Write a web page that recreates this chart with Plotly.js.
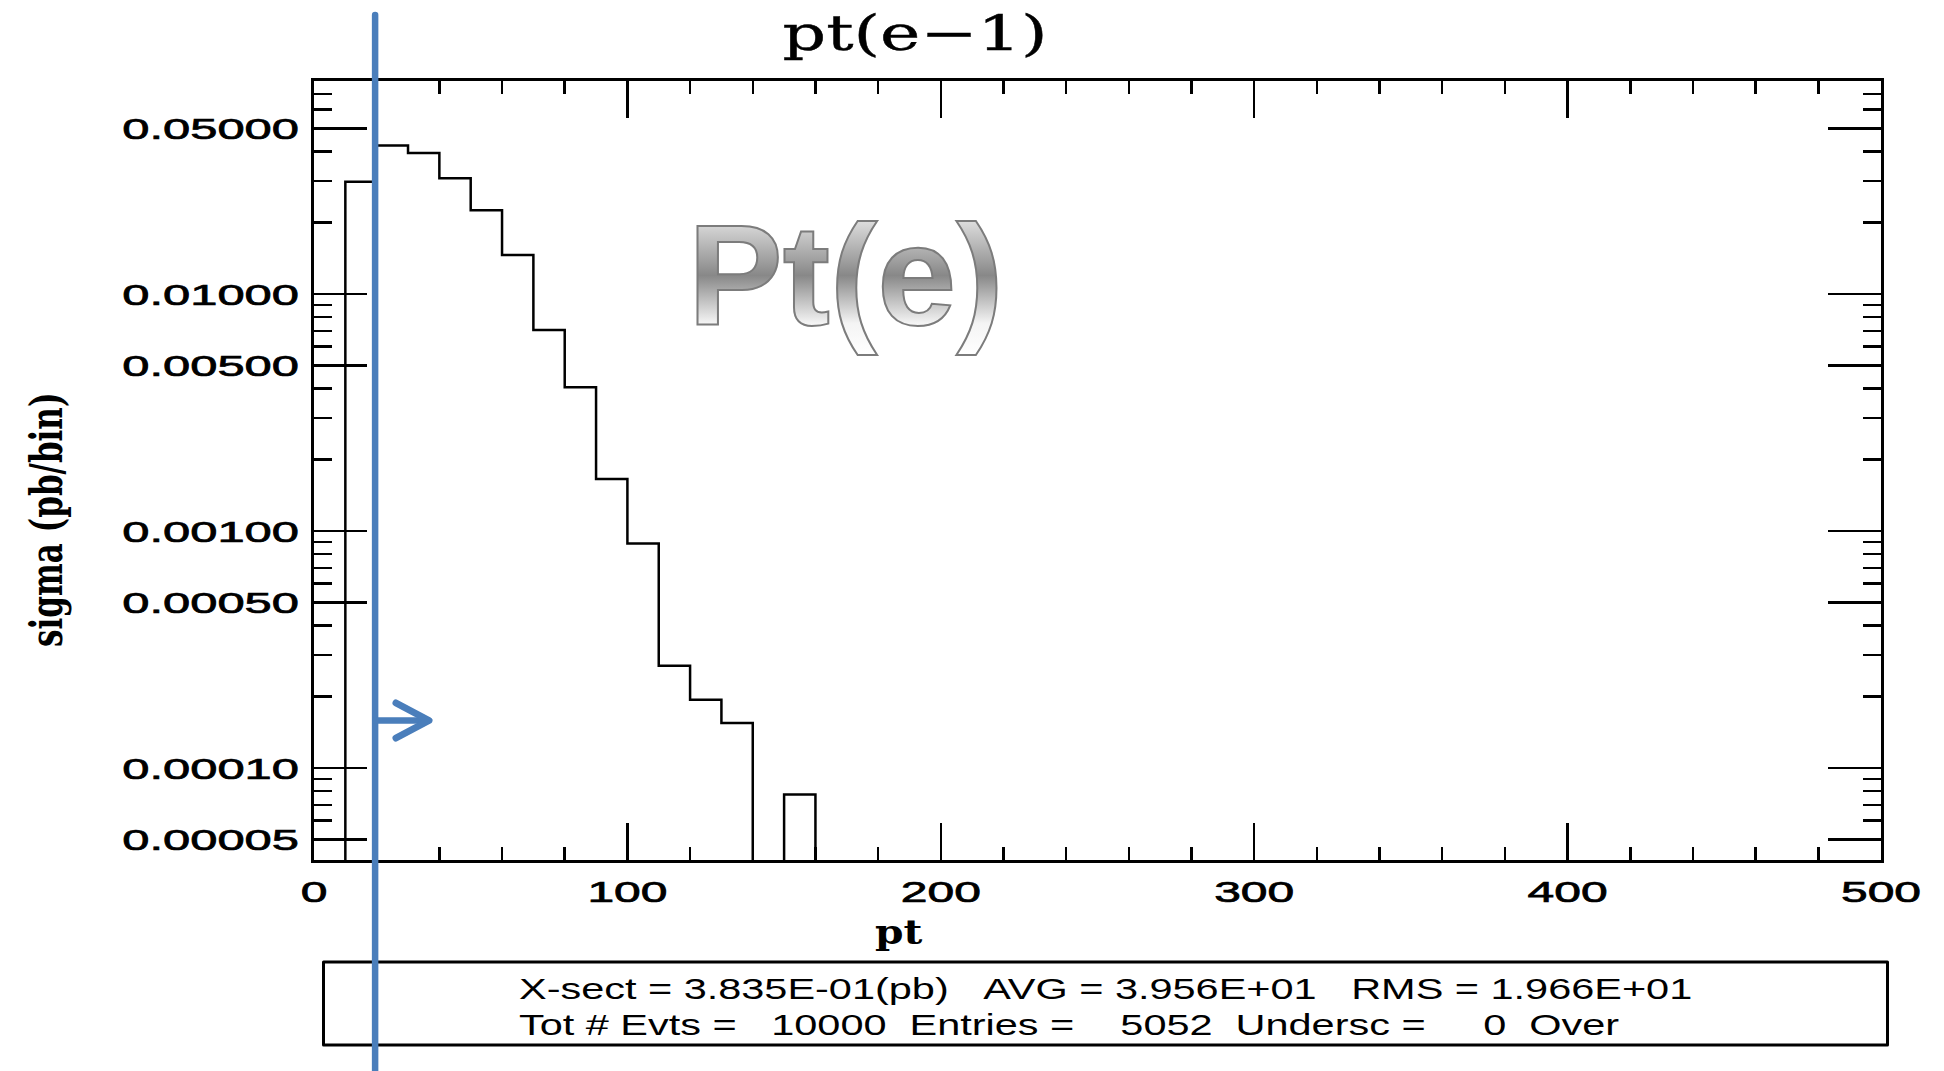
<!DOCTYPE html>
<html>
<head>
<meta charset="utf-8">
<script src="https://cdn.plot.ly/plotly-3.0.1.min.js"></script>
<style>html,body{margin:0;padding:0;background:#fff;overflow:hidden}</style>
</head>
<body>
<div id="chart" style="width:1944px;height:1071px"></div>
<script>
// ---------------- data ----------------
const binLowEdges = [0, 10, 20, 30, 40, 50, 60, 70, 80, 90, 100, 110, 120, 130, 140, 150, 160];
const binWidth = 10;
const sigmaPerBin = [0, 0.0298, 0.0423, 0.0394, 0.0308, 0.0226, 0.0146, 0.00705, 0.00404,
                     0.00166, 0.000887, 0.000270, 0.000194, 0.000155, 0, 0.0000774, 0];
const xTickVals = [0, 100, 200, 300, 400, 500];
const xTickText = ['0', '100', '200', '300', '400', '500'];
const xMinorVals = [20, 40, 60, 80, 120, 140, 160, 180, 220, 240, 260, 280,
                    320, 340, 360, 380, 420, 440, 460, 480];
const yTickVals = [0.00005, 0.0001, 0.0005, 0.001, 0.005, 0.01, 0.05];
const yTickText = ['0.00005', '0.00010', '0.00050', '0.00100', '0.00500', '0.01000', '0.05000'];
const yMinorVals = [6e-5, 7e-5, 8e-5, 9e-5, 2e-4, 3e-4, 4e-4, 6e-4, 7e-4, 8e-4, 9e-4,
                    2e-3, 3e-3, 4e-3, 6e-3, 7e-3, 8e-3, 9e-3, 2e-2, 3e-2, 4e-2, 6e-2, 7e-2];
const ptCut = 19.5;
const titleText = 'pt(e\u22121)';
const xTitleText = 'pt';
const yTitleText = 'sigma (pb/bin)';
const overlayText = 'Pt(e)';
const statsLine1 = 'X-sect = 3.835E-01(pb)   AVG = 3.956E+01   RMS = 1.966E+01';
const statsLine2 = 'Tot # Evts =   10000  Entries =    5052  Undersc =     0  Over';

// ---------------- geometry helpers ----------------
const W = 1944, H = 1071, L = 314, R = 1881, T = 81, B = 860;
const px = v => (v - L) / (R - L);
const py = v => (B - v) / (B - T);
const nb = s => s.replace(/ /g, '\u00A0');
const BLUE = '#4A7EBB';

// histogram as step outline (zero bins drop below the axis floor)
const floorVal = 1e-7;
const stepX = binLowEdges.concat([binLowEdges[binLowEdges.length - 1] + binWidth]);
const stepY = sigmaPerBin.concat([sigmaPerBin[sigmaPerBin.length - 1]]).map(v => v > 0 ? v : floorVal);

const data = [{
  type: 'scatter', mode: 'lines', x: stepX, y: stepY,
  line: {color: '#000', width: 2.5, shape: 'hv'},
  hoverinfo: 'skip', showlegend: false
}];

const tickFont = {family: 'Liberation Sans, Arial, sans-serif', size: 30, color: '#000'};

const layout = {
  width: W, height: H,
  margin: {l: L, r: W - R, t: T, b: H - B, autoexpand: false},
  paper_bgcolor: '#fff', plot_bgcolor: '#fff',
  showlegend: false,
  title: {
    text: titleText, x: 915 / W, xref: 'container', xanchor: 'center',
    y: 1 - 33 / H, yref: 'container', yanchor: 'middle',
    font: {family: 'DejaVu Serif, serif', size: 48, color: '#000'}
  },
  xaxis: {
    range: [0, 500], tickmode: 'array', tickvals: xTickVals, ticktext: xTickText,
    ticks: 'inside', ticklen: 37, tickwidth: 2.5, tickcolor: '#000',
    showline: true, linewidth: 3, linecolor: '#000', mirror: 'allticks',
    showgrid: false, zeroline: false, automargin: false,
    tickfont: tickFont, ticklabelstandoff: 3,
    minor: {tickmode: 'array', tickvals: xMinorVals, ticks: 'inside', ticklen: 13, tickwidth: 2.5, tickcolor: '#000', showgrid: false}
  },
  yaxis: {
    type: 'log', range: [-4.388, -1.101], tickmode: 'array', tickvals: yTickVals, ticktext: yTickText,
    ticks: 'inside', ticklen: 53, tickwidth: 2.5, tickcolor: '#000',
    showline: true, linewidth: 3, linecolor: '#000', mirror: 'allticks',
    showgrid: false, zeroline: false, automargin: false,
    tickfont: tickFont, ticklabelstandoff: 6,
    minor: {tickmode: 'array', tickvals: yMinorVals, ticks: 'inside', ticklen: 18, tickwidth: 2.5, tickcolor: '#000', showgrid: false}
  },
  annotations: [
    {text: overlayText, xref: 'paper', yref: 'paper', x: px(846), y: py(275), xanchor: 'center', yanchor: 'middle',
     showarrow: false, font: {family: 'Liberation Sans, Arial, sans-serif', size: 142, weight: 700, color: '#8a8a8a'}},
    {text: xTitleText, xref: 'paper', yref: 'paper', x: px(899), y: py(932), xanchor: 'center', yanchor: 'middle',
     showarrow: false, font: {family: 'DejaVu Serif, serif', size: 34, weight: 700, color: '#000'}},
    {text: yTitleText, xref: 'paper', yref: 'paper', x: px(46), y: py(520), xanchor: 'center', yanchor: 'middle',
     textangle: -90, showarrow: false, font: {family: 'DejaVu Serif, serif', size: 31, weight: 700, color: '#000'}},
    {text: nb(statsLine1), xref: 'paper', yref: 'paper', x: px(517), y: py(989), xanchor: 'left', yanchor: 'middle',
     align: 'left', showarrow: false, font: {family: 'Liberation Sans, Arial, sans-serif', size: 29, color: '#000'}},
    {text: nb(statsLine2), xref: 'paper', yref: 'paper', x: px(517), y: py(1025), xanchor: 'left', yanchor: 'middle',
     align: 'left', showarrow: false, font: {family: 'Liberation Sans, Arial, sans-serif', size: 29, color: '#000'}}
  ],
  shapes: [
    {type: 'rect', xref: 'paper', yref: 'paper', x0: px(323.5), x1: px(1887.5), y0: py(1045), y1: py(962),
     line: {color: '#000', width: 3}, fillcolor: 'rgba(0,0,0,0)', layer: 'above'},
    {type: 'line', xref: 'x', yref: 'paper', x0: ptCut, x1: ptCut, y0: py(1080), y1: py(15),
     line: {color: BLUE, width: 6.5}, layer: 'above'},
    {type: 'line', xref: 'paper', yref: 'paper', x0: px(376), x1: px(427), y0: py(720.5), y1: py(720.5),
     line: {color: BLUE, width: 6.5}, layer: 'above'},
    {type: 'path', xref: 'paper', yref: 'paper',
     path: 'M ' + px(396) + ' ' + py(703) + ' L ' + px(429) + ' ' + py(720.5) + ' L ' + px(396) + ' ' + py(738),
     line: {color: BLUE, width: 7}, fillcolor: 'rgba(0,0,0,0)', layer: 'above'}
  ]
};

function stretch(el, sx, sy) {
  if (!el) return;
  const bb = el.getBBox();
  const anchor = el.getAttribute('text-anchor') || 'start';
  const cx = anchor === 'end' ? bb.x + bb.width : (anchor === 'middle' ? bb.x + bb.width / 2 : bb.x);
  const cy = bb.y + bb.height / 2;
  const tr = el.getAttribute('transform') || '';
  el.setAttribute('transform', tr + ' translate(' + cx + ',' + cy + ') scale(' + sx + ',' + sy + ') translate(' + (-cx) + ',' + (-cy) + ')');
}
function thicken(el, w) {
  if (!el) return;
  el.style.stroke = '#000';
  el.style.strokeWidth = w + 'px';
}

const gd = document.getElementById('chart');
Plotly.newPlot(gd, data, layout, {staticPlot: true, displayModeBar: false}).then(() => {
  gd.querySelectorAll('g.ytick text').forEach(t => { stretch(t, 1.63, 1); thicken(t, 0.7); });
  gd.querySelectorAll('g.xtick text').forEach(t => { stretch(t, 1.6, 1); thicken(t, 0.7); });
  stretch(gd.querySelector('.gtitle'), 1.42, 1);
  thicken(gd.querySelector('.gtitle'), 0.4);
  const ann = i => gd.querySelector('g.annotation[data-index="' + i + '"] text');
  stretch(ann(1), 1.2, 1);
  stretch(ann(2), 1, 1.45);
  stretch(ann(3), 1.43, 1);
  stretch(ann(4), 1.43, 1);
  // metallic fill for the overlay label
  const svg = gd.querySelector('svg.main-svg');
  const NS = 'http://www.w3.org/2000/svg';
  let defs = svg.querySelector('defs');
  if (!defs) { defs = document.createElementNS(NS, 'defs'); svg.insertBefore(defs, svg.firstChild); }
  const grad = document.createElementNS(NS, 'linearGradient');
  grad.setAttribute('id', 'ptMetal');
  grad.setAttribute('x1', '0'); grad.setAttribute('y1', '0');
  grad.setAttribute('x2', '0'); grad.setAttribute('y2', '1');
  [[0, '#f2f2f2'], [0.16, '#dcdcdc'], [0.5, '#888888'], [0.8, '#f4f4f4'], [1, '#ffffff']].forEach(([o, c]) => {
    const st = document.createElementNS(NS, 'stop');
    st.setAttribute('offset', o); st.setAttribute('stop-color', c);
    grad.appendChild(st);
  });
  defs.appendChild(grad);
  const ov = ann(0);
  if (ov) {
    ov.style.fill = 'url(#ptMetal)';
    ov.style.stroke = '#7c7c7c';
    ov.style.strokeWidth = '2px';
  }
  gd.querySelectorAll('.shapelayer path').forEach(p => {
    p.style.strokeLinejoin = 'round';
    p.style.strokeLinecap = 'round';
  });
});
</script>
</body>
</html>
